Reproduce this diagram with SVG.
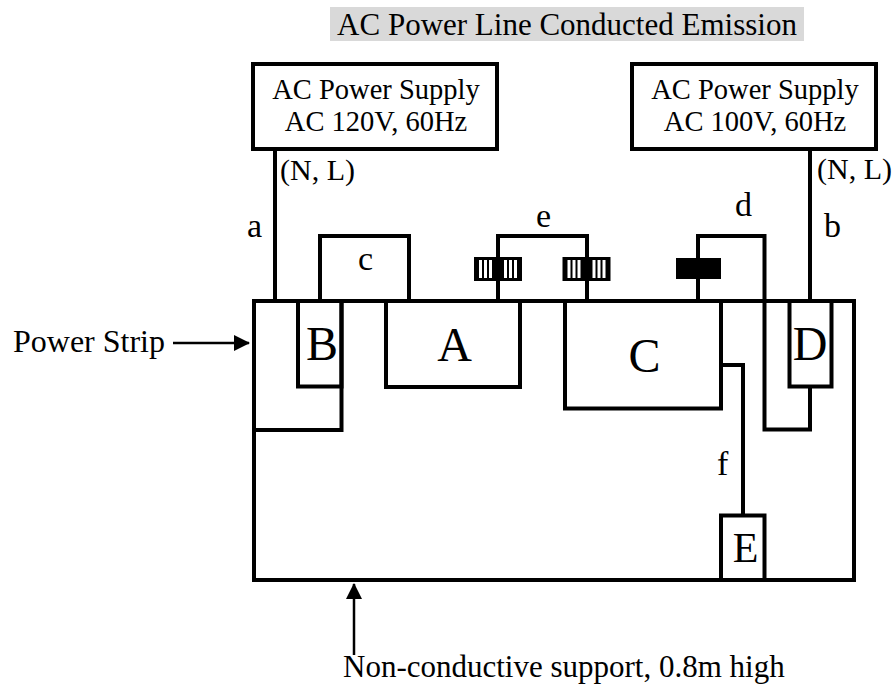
<svg xmlns="http://www.w3.org/2000/svg" width="894" height="685" viewBox="0 0 894 685" font-family="'Liberation Serif', 'Times New Roman', serif">
<style>
text{font-family:"Liberation Serif","Times New Roman",serif;fill:#000}
.box{fill:none;stroke:#000;stroke-width:4}
.w{fill:none;stroke:#000;stroke-width:4}
.thin{fill:none;stroke:#000;stroke-width:2.5}
.bt{font-size:28.5px;text-anchor:middle}
.lab{font-size:34px}
.big{font-size:48px;text-anchor:middle}
</style>
<defs>
<g id="ferrite">
<rect x="-24" y="-12" width="48" height="24" fill="#000"/>
<rect x="-19" y="-9" width="3" height="18" fill="#fff"/>
<rect x="-14" y="-9" width="3" height="18" fill="#fff"/>
<rect x="-9" y="-9" width="3" height="18" fill="#fff"/>
<rect x="6" y="-9" width="3" height="18" fill="#fff"/>
<rect x="11" y="-9" width="3" height="18" fill="#fff"/>
<rect x="16" y="-9" width="3" height="18" fill="#fff"/>
</g>
<marker id="ah" markerWidth="16" markerHeight="16" refX="15" refY="8" orient="auto" markerUnits="userSpaceOnUse">
<path d="M0,0 L16,8 L0,16 Z" fill="#000"/>
</marker>
</defs>

<g id="title">
<rect x="330" y="7" width="474" height="34" fill="#d9d9d9"/>
<text x="567" y="35" font-size="31" text-anchor="middle">AC Power Line Conducted Emission</text>
</g>

<g id="supply-120">
<rect class="box" x="253" y="64" width="244" height="85"/>
<text class="bt" x="376" y="99">AC Power Supply</text>
<text class="bt" x="376" y="131">AC 120V, 60Hz</text>
</g>

<g id="supply-100">
<rect class="box" x="632" y="64" width="244" height="85"/>
<text class="bt" x="755" y="99">AC Power Supply</text>
<text class="bt" x="755" y="131">AC 100V, 60Hz</text>
</g>

<g id="power-strip">
<rect class="box" x="254" y="301" width="600" height="279"/>
<path class="w" d="M254,430 H341.5 V301"/>
<text x="13" y="352" font-size="32">Power Strip</text>
</g>

<g id="plug-B">
<rect class="box" x="298" y="301" width="43.5" height="85.5"/>
<text class="big" x="322" y="360">B</text>
</g>

<g id="device-A">
<rect class="box" x="386" y="301" width="134" height="86"/>
<text class="big" x="454.5" y="361">A</text>
</g>

<g id="device-C">
<rect class="box" x="565" y="301" width="156" height="107.5"/>
<text class="big" x="644.5" y="372">C</text>
</g>

<g id="plug-D">
<rect class="box" x="789.5" y="301" width="42" height="85.5"/>
<text class="big" x="810" y="360">D</text>
</g>

<g id="device-E">
<rect class="box" x="721" y="515.5" width="43.5" height="64.5"/>
<text x="745.5" y="562" font-size="42" text-anchor="middle">E</text>
</g>

<g id="connectors">
<path id="cable-a" class="w" d="M275,149 V301"/>
<text x="280" y="180" font-size="30">(N, L)</text>
<text class="lab" x="247" y="237">a</text>

<path id="cable-b" class="w" d="M810,149 V301"/>
<text x="817" y="179" font-size="30">(N, L)</text>
<text class="lab" x="824" y="237">b</text>

<path id="cable-c" class="w" d="M320,301 V236 H409 V301"/>
<text class="lab" x="358" y="270">c</text>

<path id="cable-e" class="w" d="M498,301 V236 H587 V301"/>
<use href="#ferrite" x="498" y="269"/>
<use href="#ferrite" x="586.5" y="269"/>
<text class="lab" x="536" y="227">e</text>

<path id="cable-d" class="w" d="M698,301 V236 H764.5 V429.5 H810 V386.5"/>
<rect x="676" y="258" width="45" height="21" fill="#000"/>
<text class="lab" x="735" y="216">d</text>

<path id="cable-f" class="w" d="M721,365 H743 V515.5"/>
<text class="lab" x="717" y="475">f</text>

<path id="arrow-strip" class="thin" d="M173,343 H249" marker-end="url(#ah)"/>
<path id="arrow-support" class="thin" d="M354,655 V584" marker-end="url(#ah)"/>
</g>

<text x="343" y="677" font-size="31">Non-conductive support, 0.8m high</text>
</svg>
